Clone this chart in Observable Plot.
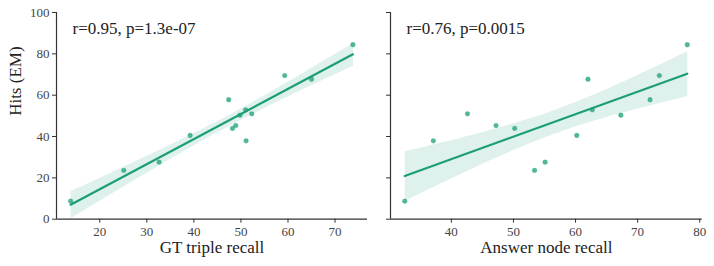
<!DOCTYPE html>
<html>
<head>
<meta charset="utf-8">
<script src="https://cdn.jsdelivr.net/npm/d3@7"></script>
<script src="https://cdn.jsdelivr.net/npm/@observablehq/plot@0.6"></script>
<style>
  html, body { margin: 0; padding: 0; background: #fff; }
  #wrap { display: flex; width: 714px; height: 266px; overflow: hidden; }
</style>
</head>
<body>
<div id="wrap"></div>
<script>
const hits = [8.7, 23.6, 27.6, 40.5, 57.8, 43.9, 45.3, 50.3, 52.9, 37.9, 51.0, 69.5, 67.7, 84.4];
const gtTripleRecall = [13.8, 25.1, 32.6, 39.2, 47.4, 48.2, 48.9, 49.8, 51.0, 51.1, 52.3, 59.3, 65.0, 73.8];
const answerNodeRecall = [32.5, 53.4, 55.1, 60.2, 72.0, 50.2, 47.2, 67.3, 62.7, 37.1, 42.6, 73.5, 62.0, 78.0];
const yTicks = [0, 20, 40, 60, 80, 100];
const leftXTicks = [20, 30, 40, 50, 60, 70];
const rightXTicks = [40, 50, 60, 70, 80];
const leftNote = "r=0.95, p=1.3e-07";
const rightNote = "r=0.76, p=0.0015";

const green = "#1b9e77";
const font = "'Liberation Serif', serif";

function panel({xs, xDomain, xTicks, xLabel, note, width, marginLeft, marginRight, showYLabels}) {
  const data = xs.map((x, i) => ({x, y: hits[i]}));
  const marks = [
    Plot.axisY({ticks: yTicks, tickSize: 4, tickPadding: 3, fontSize: 13, label: null,
      tickFormat: showYLabels ? (d => d) : (() => ""), stroke: "#333", color: "#444"}),
    Plot.ruleX([xDomain[0]], {stroke: "#333", strokeWidth: 1.2}),
    Plot.axisX({ticks: xTicks, tickSize: 4, tickPadding: 4, fontSize: 13, label: null, stroke: "#333"}),
    Plot.ruleY([0], {stroke: "#333", strokeWidth: 1.2}),
    Plot.linearRegressionY(data, {x: "x", y: "y", stroke: green, fill: green, fillOpacity: 0.14, strokeWidth: 2.2, ci: 0.87}),
    Plot.dot(data, {x: "x", y: "y", r: 2.4, fill: green, fillOpacity: 0.75, stroke: green, strokeOpacity: 0.4, strokeWidth: 0.5}),
    Plot.text([note], {frameAnchor: "top-left", dx: 16, dy: 9, textAnchor: "start", lineAnchor: "top", fontSize: 17, fill: "#222"}),
    Plot.text([xLabel], {frameAnchor: "bottom", dy: 34, fontSize: 17, fill: "#222"})
  ];
  if (showYLabels) {
    marks.push(Plot.text(["Hits (EM)"], {frameAnchor: "left", rotate: -90, dx: -41, fontSize: 17, fill: "#222"}));
  }
  return Plot.plot({
    width, height: 266,
    marginLeft, marginRight, marginTop: 12, marginBottom: 47.3,
    style: {fontFamily: font, color: "#444", background: "#fff", overflow: "visible"},
    x: {domain: xDomain},
    y: {domain: [0, 100]},
    marks
  });
}

const wrap = document.getElementById("wrap");
wrap.append(panel({xs: gtTripleRecall, xDomain: [10.8, 76.9], xTicks: leftXTicks, xLabel: "GT triple recall",
  note: leftNote, width: 375, marginLeft: 56, marginRight: 8, showYLabels: true}));
wrap.append(panel({xs: answerNodeRecall, xDomain: [30.2, 80.4], xTicks: rightXTicks, xLabel: "Answer node recall",
  note: rightNote, width: 339, marginLeft: 15, marginRight: 12.3, showYLabels: false}));
</script>
</body>
</html>
